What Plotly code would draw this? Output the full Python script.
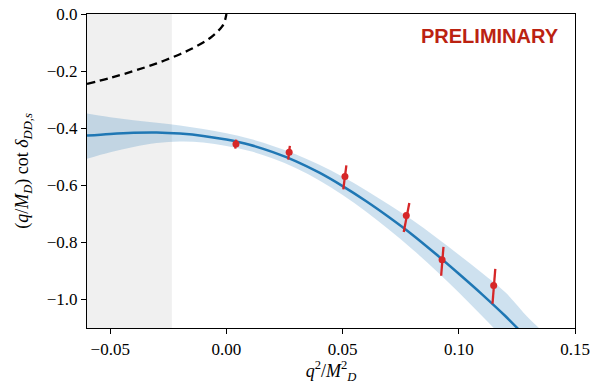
import plotly.graph_objects as go

# lattice points: centre and the two ends of each (tilted) error bar
x_pts = [0.0041, 0.027, 0.051, 0.0774, 0.0928, 0.115]
y_pts = [-0.455, -0.484, -0.569, -0.706, -0.861, -0.951]
x_top = [0.0042, 0.0273, 0.0516, 0.0787, 0.0934, 0.1157]
y_top = [-0.440, -0.462, -0.530, -0.662, -0.816, -0.893]
x_bot = [0.0038, 0.0266, 0.0503, 0.0763, 0.0924, 0.1145]
y_bot = [-0.472, -0.510, -0.614, -0.764, -0.917, -1.015]

# fit curve and its band
x_fit = [-0.06, -0.05, -0.04, -0.03, -0.02, -0.01, 0.0, 0.01, 0.02, 0.03, 0.04,
         0.05, 0.06, 0.07, 0.08, 0.09, 0.10, 0.11, 0.12, 0.13, 0.14]
y_fit = [-0.426, -0.420, -0.416, -0.415, -0.419, -0.427, -0.440, -0.458, -0.484,
         -0.516, -0.556, -0.603, -0.655, -0.712, -0.773, -0.840, -0.910, -0.982,
         -1.058, -1.14, -1.22]
y_hi = [-0.349, -0.362, -0.372, -0.381, -0.391, -0.403, -0.418, -0.437, -0.462,
        -0.492, -0.528, -0.570, -0.617, -0.668, -0.722, -0.781, -0.843, -0.907,
        -0.975, -1.065, -1.14]
y_lo = [-0.507, -0.484, -0.466, -0.452, -0.447, -0.450, -0.462, -0.480, -0.506,
        -0.540, -0.583, -0.634, -0.692, -0.756, -0.824, -0.898, -0.976, -1.058,
        -1.142, -1.23, -1.32]

# bound state condition curve (dashed)
x_bs = [-0.06, -0.05, -0.04, -0.03, -0.02, -0.015, -0.01, -0.007, -0.004, -0.002, -0.001, 0.0]
y_bs = [-0.245, -0.224, -0.200, -0.173, -0.141, -0.122, -0.100, -0.084, -0.063, -0.045, -0.032, 0.0]

x_ticks = [-0.05, 0.0, 0.05, 0.10, 0.15]
y_ticks = [0.0, -0.2, -0.4, -0.6, -0.8, -1.0]
gray_edge = -0.0235

blue = "#1f77b4"
red = "#d62728"

fig = go.Figure()

fig.add_trace(go.Scatter(x=x_fit, y=y_hi, mode="lines", line=dict(width=0),
                         line_shape="spline", hoverinfo="skip", showlegend=False))
fig.add_trace(go.Scatter(x=x_fit, y=y_lo, mode="lines", line=dict(width=0),
                         line_shape="spline", fill="tonexty",
                         fillcolor="rgba(31,119,180,0.22)", hoverinfo="skip",
                         showlegend=False))
fig.add_trace(go.Scatter(x=x_fit, y=y_fit, mode="lines", line_shape="spline",
                         line=dict(color=blue, width=2.5), showlegend=False))

fig.add_trace(go.Scatter(x=x_bs, y=y_bs, mode="lines", line_shape="spline",
                         line=dict(color="black", width=2.3, dash="8px,5px"),
                         showlegend=False))

seg_x, seg_y = [], []
for xt, yt, xb, yb in zip(x_top, y_top, x_bot, y_bot):
    seg_x += [xb, xt, None]
    seg_y += [yb, yt, None]
fig.add_trace(go.Scatter(x=seg_x, y=seg_y, mode="lines",
                         line=dict(color=red, width=2.3), showlegend=False))
fig.add_trace(go.Scatter(x=x_pts, y=y_pts, mode="markers",
                         marker=dict(color=red, size=7), showlegend=False))

fig.add_shape(type="rect", xref="x", yref="paper", x0=-0.06, x1=gray_edge,
              y0=0, y1=1, fillcolor="#f0f0f0", line_width=0, layer="below")

fig.add_annotation(text="<b>PRELIMINARY</b>", xref="paper", yref="paper",
                   x=0.972, y=0.93, xanchor="right", yanchor="middle",
                   showarrow=False,
                   font=dict(family="Liberation Sans, Arial", size=20, color="#bb2211"))

axis_font = dict(family="Liberation Serif, DejaVu Serif", size=17, color="black")
title_font = dict(family="Liberation Serif, DejaVu Serif", size=18, color="black")
fig.update_xaxes(range=[-0.06, 0.15], tickvals=x_ticks, tickformat=".2f",
                 ticks="outside", ticklen=5, tickcolor="black", showline=True,
                 linecolor="black", linewidth=1.2, mirror=True, showgrid=False,
                 zeroline=False, tickfont=axis_font, automargin=False,
                 ticklabeloverflow="allow",
                 title=dict(text="<i>q</i><sup>2</sup>/<i>M</i><sup>2</sup><sub><i>D</i></sub>",
                            font=title_font, standoff=4))
fig.update_yaxes(range=[-1.1, 0.0], tickvals=y_ticks, tickformat=".1f",
                 ticks="outside", ticklen=5, tickcolor="black", showline=True,
                 linecolor="black", linewidth=1.2, mirror=True, showgrid=False,
                 zeroline=False, tickfont=axis_font, automargin=False,
                 ticklabeloverflow="allow",
                 title=dict(text="(<i>q</i>/<i>M<sub>D</sub></i>) cot <i>δ</i><sub><i>DD,s</i></sub>",
                            font=title_font, standoff=13))

fig.update_layout(width=598, height=391, plot_bgcolor="white", paper_bgcolor="white",
                  font=dict(color="black"),
                  margin=dict(l=87, r=23, t=14, b=63))

# drop the browser's default 8px body margin so the figure fills the window
fig.write_html("out.html", config={"displayModeBar": False},
               post_script="document.body.style.margin='0';document.body.style.overflow='hidden';")
